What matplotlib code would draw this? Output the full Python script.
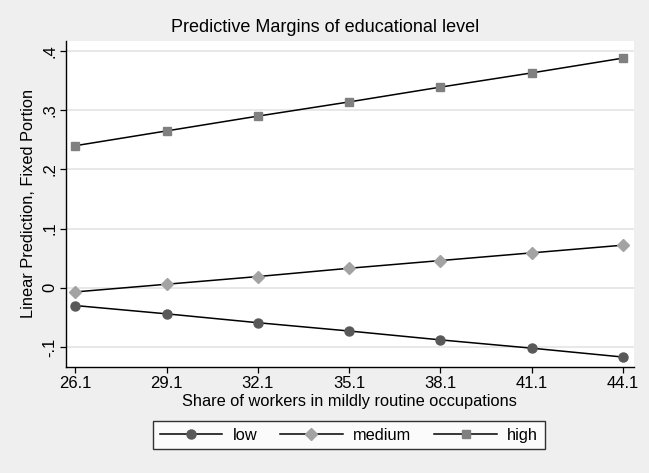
import matplotlib
matplotlib.use("Agg")
import matplotlib.pyplot as plt
from matplotlib.lines import Line2D

plt.rcParams['font.family'] = ['Liberation Sans', 'DejaVu Sans']

x_vals = [26.1, 29.1, 32.1, 35.1, 38.1, 41.1, 44.1]
x_ticklabels = ["26.1", "29.1", "32.1", "35.1", "38.1", "41.1", "44.1"]
low = [-0.030, -0.044, -0.059, -0.073, -0.088, -0.102, -0.117]
medium = [-0.007, 0.006, 0.019, 0.033, 0.046, 0.059, 0.072]
high = [0.240, 0.265, 0.290, 0.314, 0.339, 0.363, 0.388]
y_ticks = [-0.1, 0, 0.1, 0.2, 0.3, 0.4]
y_ticklabels = ["-.1", "0", ".1", ".2", ".3", ".4"]
series_names = ["low", "medium", "high"]

W, H = 649, 473
fig = plt.figure(figsize=(W / 100, H / 100), dpi=100)
fig.patch.set_facecolor('#efefef')

left, right, top, bottom = 65.7, 634, 41, 366.7
ax = fig.add_axes([left / W, (H - bottom) / H, (right - left) / W, (bottom - top) / H])
ax.set_facecolor('white')

styles = [
    dict(marker='o', color='#595959', ms=6.5),
    dict(marker='D', color='#a3a3a3', ms=6.0),
    dict(marker='s', color='#808080', ms=6.3),
]
for vals, st, name in zip([low, medium, high], styles, series_names):
    ax.plot(x_vals, vals, color='black', lw=1.1, marker=st['marker'],
            markersize=st['ms'], markerfacecolor=st['color'],
            markeredgecolor=st['color'], label=name, zorder=3)

ax.set_xlim(25.785, 44.46)
ax.set_ylim(-0.1333, 0.4169)
ax.set_xticks(x_vals)
ax.set_xticklabels(x_ticklabels, fontsize=12)
ax.set_yticks(y_ticks)
ax.set_yticklabels(y_ticklabels, fontsize=12)
for lab in ax.get_yticklabels():
    lab.set_rotation(90)
    lab.set_va('center')
    lab.set_ha('right')

ax.grid(axis='y', color='#e4e4e4', lw=1.2, zorder=0)
ax.set_axisbelow(True)
for s in ['top', 'right']:
    ax.spines[s].set_visible(False)
for s in ['left', 'bottom']:
    ax.spines[s].set_color('black')
    ax.spines[s].set_linewidth(1.0)
ax.tick_params(axis='x', length=4.5, width=0.9, color='black', pad=2.5)
ax.tick_params(axis='y', length=4.5, width=0.9, color='black', pad=1.5)

fig.text(325.4 / W, 1 - 28 / H, "Predictive Margins of educational level",
         ha='center', va='center', fontsize=13)
fig.text(349.2 / W, 1 - 401.5 / H, "Share of workers in mildly routine occupations",
         ha='center', va='center', fontsize=11.8)
fig.text(29 / W, 1 - 203.5 / H, "Linear Prediction, Fixed Portion",
         ha='center', va='center', rotation=90, fontsize=11.8)

handles = [Line2D([], [], color='black', lw=1.1, marker=st['marker'], markersize=st['ms'],
                  markerfacecolor=st['color'], markeredgecolor=st['color'])
           for st in styles]
leg = fig.legend(handles, series_names, loc='center', ncol=3,
                 bbox_to_anchor=(349 / W, 1 - 435 / H), fontsize=11.8,
                 handlelength=3.8, handletextpad=0.65, columnspacing=1.4,
                 borderpad=0.4, frameon=True, fancybox=False)
leg.get_frame().set_edgecolor('black')
leg.get_frame().set_linewidth(1.0)
leg.get_frame().set_facecolor('white')

fig.savefig('out.png', dpi=100, facecolor=fig.get_facecolor())
